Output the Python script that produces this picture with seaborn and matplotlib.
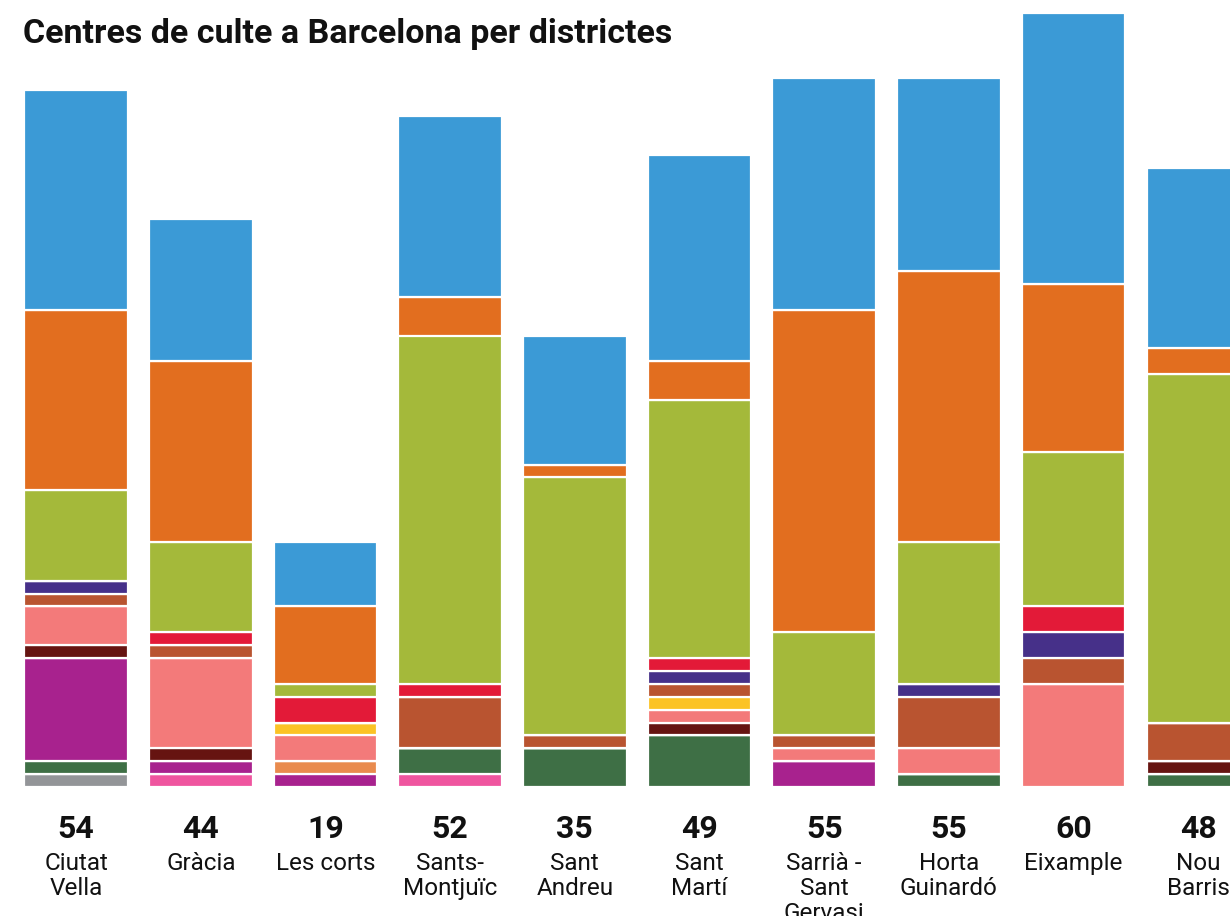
import numpy as np
import matplotlib
matplotlib.use("Agg")
import matplotlib.pyplot as plt
import matplotlib.transforms as mtransforms
import seaborn as sns

# Districts, totals and stacked counts (bottom to top)
districtes = ["Ciutat\nVella", "Gràcia", "Les corts", "Sants-\nMontjuïc", "Sant\nAndreu",
              "Sant\nMartí", "Sarrià -\nSant\nGervasi", "Horta\nGuinardó", "Eixample", "Nou\nBarris"]
totals = [54, 44, 19, 52, 35, 49, 55, 55, 60, 48]

gris = [1, 0, 0, 0, 0, 0, 0, 0, 0, 0]
rosa = [0, 1, 0, 1, 0, 0, 0, 0, 0, 0]
verd_fosc = [1, 0, 0, 2, 3, 4, 0, 1, 0, 1]
magenta = [8, 1, 1, 0, 0, 0, 2, 0, 0, 0]
taronja_clar = [0, 0, 1, 0, 0, 0, 0, 0, 0, 0]
granat = [1, 1, 0, 0, 0, 1, 0, 0, 0, 1]
salmo = [3, 7, 2, 0, 0, 1, 1, 2, 8, 0]
groc = [0, 0, 1, 0, 0, 1, 0, 0, 0, 0]
marro = [1, 1, 0, 4, 1, 1, 1, 4, 2, 3]
lila = [1, 0, 0, 0, 0, 1, 0, 1, 2, 0]
vermell = [0, 1, 2, 1, 0, 1, 0, 0, 2, 0]
verd = [7, 7, 1, 27, 20, 20, 8, 11, 12, 27]
taronja = [14, 14, 6, 3, 1, 3, 25, 21, 13, 2]
blau = [17, 11, 5, 14, 10, 16, 18, 15, 21, 14]

capes = [
    (gris, "#939598"),
    (rosa, "#EF559F"),
    (verd_fosc, "#3E6F45"),
    (magenta, "#A8228E"),
    (taronja_clar, "#E98B4E"),
    (granat, "#661411"),
    (salmo, "#F37A7A"),
    (groc, "#FBC325"),
    (marro, "#B95430"),
    (lila, "#463089"),
    (vermell, "#E31A38"),
    (verd, "#A4B93A"),
    (taronja, "#E26E1F"),
    (blau, "#3B9AD6"),
]

sns.set_style("white")
plt.rcParams["font.family"] = ["Roboto", "DejaVu Sans"]

fig = plt.figure(figsize=(12.3, 9.16), dpi=100)
ax = fig.add_axes([0, 129 / 916, 1, 787 / 916])

x = list(range(len(districtes)))
base = np.zeros(len(districtes))
for valors, color in capes:
    valors = np.array(valors, dtype=float)
    sns.barplot(x=x, y=valors, bottom=base, color=color, width=0.83,
                edgecolor="white", linewidth=1.6, saturation=1, ax=ax)
    base = base + valors

ax.set_xlim(-0.61, 9.254)
ax.set_ylim(0, 787 / 12.9)
ax.axis("off")

trans = mtransforms.blended_transform_factory(ax.transData, fig.transFigure)
for i, (nom, tot) in enumerate(zip(districtes, totals)):
    ax.text(i, (916 - 829) / 916, str(tot), transform=trans, ha="center", va="center",
            fontsize=23, fontweight="bold", color="#111111", clip_on=False)
    ax.text(i, (916 - 852) / 916, nom, transform=trans, ha="center", va="top",
            fontsize=17.5, color="#111111", linespacing=1.12, clip_on=False)

fig.text(23 / 1230, (916 - 34) / 916, "Centres de culte a Barcelona per districtes",
         ha="left", va="center", fontsize=24.5, fontweight="bold", color="#111111")

fig.savefig("out.png", dpi=100)
